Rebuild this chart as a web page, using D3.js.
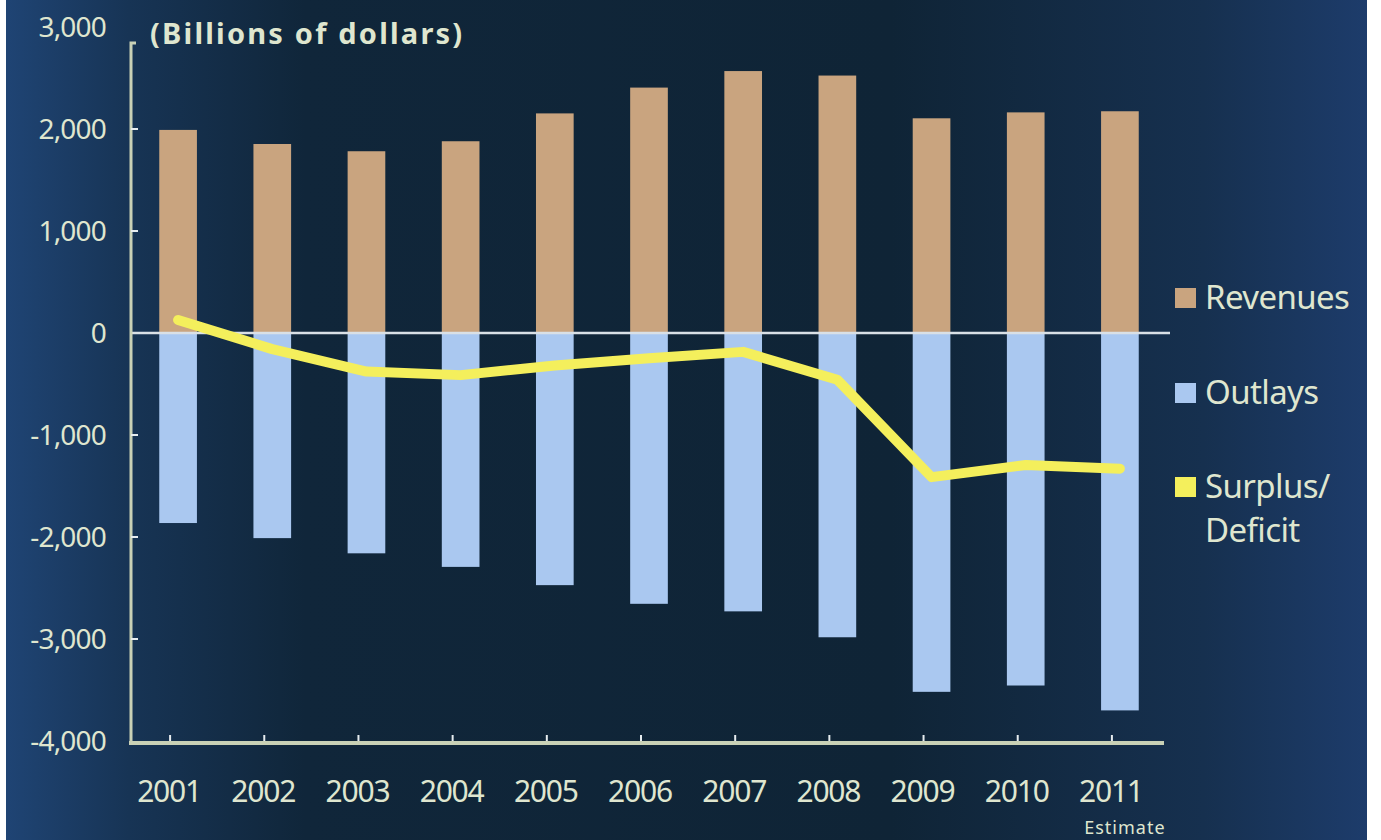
<!DOCTYPE html>
<html>
<head>
<meta charset="utf-8">
<script src="https://cdn.jsdelivr.net/npm/d3@7"></script>
<style>
  html, body { margin: 0; padding: 0; background: #ffffff; }
  svg { display: block; }
  text { font-family: "Noto Sans", "Open Sans", sans-serif; fill: #dfe6cf; }
</style>
</head>
<body>
<div id="chart"></div>
<script>
// values in billions of dollars
var years = ["2001", "2002", "2003", "2004", "2005", "2006", "2007", "2008", "2009", "2010", "2011"];
var revenues = [1991, 1853, 1782, 1880, 2153, 2406, 2568, 2524, 2105, 2163, 2174];
var outlays = [-1863, -2011, -2160, -2293, -2472, -2655, -2729, -2983, -3518, -3456, -3700];
var surplus = [128, -158, -378, -413, -318, -248, -185, -459, -1413, -1294, -1330];
var yTicks = [3000, 2000, 1000, 0, -1000, -2000, -3000, -4000];
var legendItems = [
  { label: ["Revenues"], color: "#c9a47f" },
  { label: ["Outlays"], color: "#aac8f0" },
  { label: ["Surplus/", "Deficit"], color: "#f4ef5c" }
];

var width = 1381, height = 840;

var svg = d3.select("#chart")
  .append("svg")
  .attr("width", width)
  .attr("height", height);

var defs = svg.append("defs");
var bg = defs.append("linearGradient")
  .attr("id", "bg")
  .attr("x1", "0%").attr("y1", "0%")
  .attr("x2", "100%").attr("y2", "0%");
bg.append("stop").attr("offset", "0%").attr("stop-color", "#1f4474");
bg.append("stop").attr("offset", "9%").attr("stop-color", "#173455");
bg.append("stop").attr("offset", "22%").attr("stop-color", "#10263a");
bg.append("stop").attr("offset", "65%").attr("stop-color", "#0f2436");
bg.append("stop").attr("offset", "88%").attr("stop-color", "#16304f");
bg.append("stop").attr("offset", "100%").attr("stop-color", "#1d3c6b");

svg.append("rect")
  .attr("x", 6).attr("y", 0)
  .attr("width", 1361).attr("height", height)
  .attr("fill", "url(#bg)");

var xScale = d3.scaleBand()
  .domain(years)
  .range([131, 1167]);

var yScale = d3.scaleLinear()
  .domain([-4000, 3000])
  .range([741, 27]);

var barW = xScale.step() * 0.4;
var cx = function(d) { return xScale(d) + xScale.step() / 2; };

// revenue bars
svg.selectAll(".rev")
  .data(years)
  .enter()
  .append("rect")
  .attr("class", "rev")
  .attr("x", function(d) { return cx(d) - barW / 2; })
  .attr("y", function(d, i) { return yScale(revenues[i]); })
  .attr("width", barW)
  .attr("height", function(d, i) { return yScale(0) - yScale(revenues[i]); })
  .attr("fill", "#c9a47f");

// outlay bars
svg.selectAll(".out")
  .data(years)
  .enter()
  .append("rect")
  .attr("class", "out")
  .attr("x", function(d) { return cx(d) - barW / 2; })
  .attr("y", yScale(0))
  .attr("width", barW)
  .attr("height", function(d, i) { return yScale(outlays[i]) - yScale(0); })
  .attr("fill", "#aac8f0");

// zero line
svg.append("line")
  .attr("x1", 131).attr("x2", 1170)
  .attr("y1", yScale(0)).attr("y2", yScale(0))
  .attr("stroke", "#d9e0e6")
  .attr("stroke-width", 2.5);

// y axis
var yAxis = svg.append("g").attr("class", "y-axis");
yAxis.append("path")
  .attr("d", "M136," + (yScale(3000) + 16) + "H131V" + yScale(-4000))
  .attr("fill", "none")
  .attr("stroke", "#c9d1b6")
  .attr("stroke-width", 3);

yAxis.selectAll(".ytick")
  .data(yTicks.filter(function(d) { return d > -4000 && d < 3000 && d !== 0; }))
  .enter()
  .append("line")
  .attr("x1", 131).attr("x2", 138)
  .attr("y1", function(d) { return yScale(d); })
  .attr("y2", function(d) { return yScale(d); })
  .attr("stroke", "#e6ecef")
  .attr("stroke-width", 2);

yAxis.selectAll(".ylab")
  .data(yTicks)
  .enter()
  .append("text")
  .attr("x", 106)
  .attr("y", function(d) { return yScale(d) + 10; })
  .attr("text-anchor", "end")
  .attr("font-size", 28)
  .attr("letter-spacing", -0.8)
  .text(function(d) { return d3.format(",")(d).replace("\u2212", "-"); });

svg.append("text")
  .attr("x", 150)
  .attr("y", 44)
  .attr("font-size", 29)
  .attr("font-weight", "bold")
  .attr("letter-spacing", 2.2)
  .text("(Billions of dollars)");

// x axis
var xAxis = svg.append("g").attr("class", "x-axis");
xAxis.append("line")
  .attr("x1", 129).attr("x2", 1164)
  .attr("y1", yScale(-4000) + 2).attr("y2", yScale(-4000) + 2)
  .attr("stroke", "#c9d1b6")
  .attr("stroke-width", 4);

xAxis.selectAll(".xtick")
  .data(years)
  .enter()
  .append("line")
  .attr("x1", function(d) { return cx(d) - 8; })
  .attr("x2", function(d) { return cx(d) - 8; })
  .attr("y1", yScale(-4000))
  .attr("y2", yScale(-4000) - 6)
  .attr("stroke", "#e6ecef")
  .attr("stroke-width", 2);

xAxis.selectAll(".xlab")
  .data(years)
  .enter()
  .append("text")
  .attr("x", function(d) { return cx(d) - 9; })
  .attr("y", 802)
  .attr("text-anchor", "middle")
  .attr("font-size", 30)
  .attr("letter-spacing", -1.2)
  .text(function(d) { return d; });

svg.append("text")
  .attr("x", cx("2011") + 5)
  .attr("y", 834)
  .attr("text-anchor", "middle")
  .attr("font-size", 18)
  .attr("letter-spacing", 1)
  .text("Estimate");

// surplus / deficit line
var line = d3.line()
  .x(function(d, i) { return cx(years[i]); })
  .y(function(d) { return yScale(d); })
  .curve(d3.curveLinear);

svg.append("path")
  .datum(surplus)
  .attr("d", line)
  .attr("fill", "none")
  .attr("stroke", "#f4ef5c")
  .attr("stroke-width", 10)
  .attr("stroke-linejoin", "round")
  .attr("stroke-linecap", "round");

// legend
var legendY = [288, 383, 477];
var legend = svg.selectAll(".legend")
  .data(legendItems)
  .enter()
  .append("g")
  .attr("class", "legend")
  .attr("transform", function(d, i) { return "translate(1175," + legendY[i] + ")"; });

legend.append("rect")
  .attr("width", 21)
  .attr("height", 20)
  .attr("fill", function(d) { return d.color; });

legend.each(function(d) {
  var g = d3.select(this);
  d.label.forEach(function(t, j) {
    g.append("text")
      .attr("x", 30)
      .attr("y", 21 + j * 44)
      .attr("font-size", 33)
      .attr("letter-spacing", -0.6)
      .text(t);
  });
});
</script>
</body>
</html>
